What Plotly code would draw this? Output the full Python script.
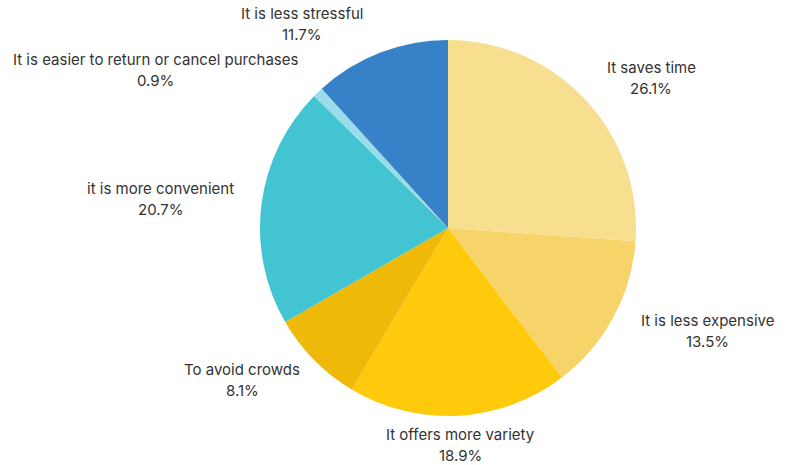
import math
import plotly.graph_objects as go

# Reasons for shopping online (share of respondents, %)
reasons = [
    "It saves time",
    "It is less expensive",
    "It offers more variety",
    "To avoid crowds",
    "it is more convenient",
    "It is easier to return or cancel purchases",
    "It is less stressful",
]
shares = [26.1, 13.5, 18.9, 8.1, 20.7, 0.9, 11.7]
colors = ["#F7DF8F", "#F6D46A", "#FFC90C", "#EEB909", "#42C4D3", "#9ADCE7", "#3781C8"]

W, H = 790, 465
CX, CY, R = 448, 228, 188
LABEL_R = R + 30
TEXT_COLOR = "#333333"
FONT = "Inter"
FONT_SIZE = 15
CHAR_W = 6.75  # approximate advance per character at FONT_SIZE

fig = go.Figure(
    go.Pie(
        labels=reasons,
        values=shares,
        sort=False,
        direction="clockwise",
        rotation=0,
        marker=dict(colors=colors, line=dict(width=0)),
        textinfo="none",
        hovertemplate="%{label}: %{value}%<extra></extra>",
        domain=dict(x=[(CX - R) / W, (CX + R) / W], y=[1 - (CY + R) / H, 1 - (CY - R) / H]),
        showlegend=False,
    )
)

# Outside labels placed at each slice's mid-angle, no leader lines
total = sum(shares)
cum = 0.0
annotations = []
for name, v in zip(reasons, shares):
    mid = (cum + v / 2) / total * 2 * math.pi
    cum += v
    px = CX + LABEL_R * math.sin(mid)
    py = CY - LABEL_R * math.cos(mid)
    s = math.sin(mid)
    block_w = CHAR_W * len(name)
    if abs(s) < 0.2:
        cx = px
    elif s > 0:
        cx = px + block_w / 2
    else:
        cx = px - block_w / 2
    for text, dy in ((name, -11.5), (f"{v}%", 9.5)):
        annotations.append(
            dict(
                x=cx / W,
                y=1 - (py + dy) / H,
                xref="paper",
                yref="paper",
                text=text,
                showarrow=False,
                xanchor="center",
                yanchor="middle",
                font=dict(family=FONT, size=FONT_SIZE, color=TEXT_COLOR),
            )
        )

fig.update_layout(
    width=W,
    height=H,
    margin=dict(l=0, r=0, t=0, b=0),
    paper_bgcolor="white",
    plot_bgcolor="white",
    annotations=annotations,
    font=dict(family=FONT),
)

fig.write_html("out.html")
